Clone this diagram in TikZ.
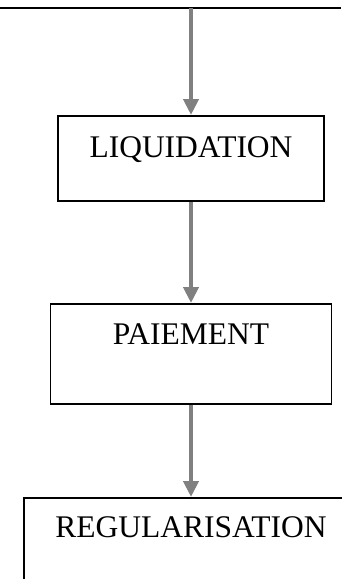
\documentclass[tikz,border=0pt]{standalone}
\usepackage{fontspec}
\setmainfont{Liberation Serif}
\usepackage{tikz}
\usetikzlibrary{arrows.meta}

\tikzset{
	etape/.style={draw=black, line width=1.6pt, inner sep=0pt, align=center,
		font=\fontsize{31.5}{36}\selectfont},
	fleche/.style={draw=gray, line width=4pt, -{Triangle[length=16pt,width=15pt]}}
}

\begin{document}
\begin{tikzpicture}[x=1pt,y=-1pt]
					\useasboundingbox (0,0) rectangle (341,579);
					\draw[line width=2pt] (0,7.5) -- (341,7.5);
					\coordinate (haut) at (191,7.5);
					\node[etape, anchor=north, minimum width=266pt, text height=42pt, text depth=43pt] (liq) at (191,115) {LIQUIDATION};
					\node[etape, anchor=north, minimum width=281pt, text height=41pt, text depth=59pt] (pai) at (191,303) {PAIEMENT};
					\node[etape, anchor=north, minimum width=334pt, text height=40pt, text depth=60pt] (reg) at (191,497) {REGULARISATION};
					\draw[fleche] (haut) -- (liq.north);
					\draw[fleche] (liq.south) -- (pai.north);
					\draw[fleche] (pai.south) -- (reg.north);
				\end{tikzpicture}
\end{document}
